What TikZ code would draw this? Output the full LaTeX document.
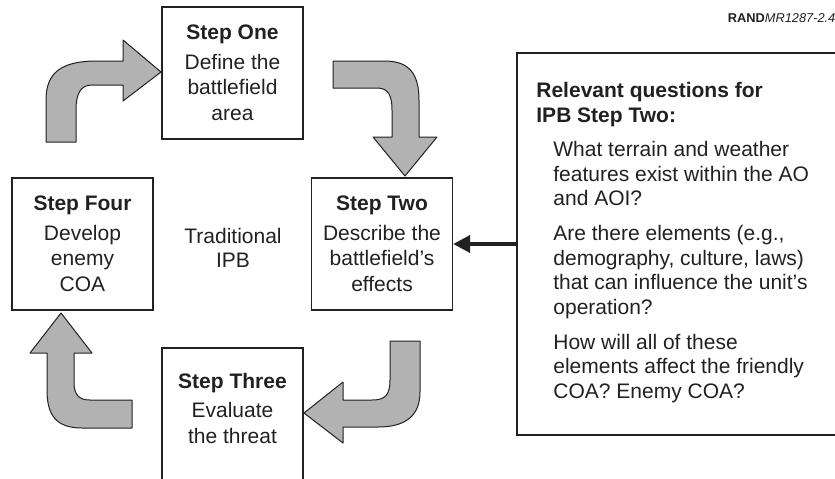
\documentclass[tikz,border=0pt]{standalone}
\usepackage{fontspec}
\setmainfont{Liberation Sans}
\usetikzlibrary{arrows.meta}
\definecolor{inkgray}{gray}{0.13}
\definecolor{bendfill}{gray}{0.7}

\begin{document}
\begin{tikzpicture}[x=0.5pt, y=-0.5pt,
	 stepnode/.style={draw=inkgray, text=inkgray, line width=0.65pt, minimum width=70.5pt, minimum height=66pt, inner sep=0pt, align=center, font=\fontsize{10.5}{12.75}\selectfont},
	 plaintext/.style={text=inkgray, inner sep=0pt, align=center, font=\fontsize{10.5}{12}\selectfont},
	 questext/.style={text=inkgray, inner sep=0pt, align=left, anchor=north west, font=\fontsize{10.5}{12.35}\selectfont},
	 quesbox/.style={draw=inkgray, line width=0.65pt, minimum width=180pt, minimum height=191pt},
	 bendarrow/.style={draw=inkgray, fill=bendfill, line width=0.5pt, line join=round},
	 feedarrow/.style={draw=inkgray, line width=1.8pt, -{Triangle[length=8.5pt, width=8.5pt]}}]
	    \useasboundingbox (0,0) rectangle (835,478);
	    \node at (232.5,73) [stepnode] (s1) {\textbf{Step One}\\[2pt]Define the\\battlefield\\area};
	    \node at (382,244) [stepnode] (s2) {\textbf{Step Two}\\[2pt]Describe the\\battlefield's\\effects};
	    \node at (232.5,414) [stepnode, text depth=6pt] (s3) {\textbf{Step Three}\\[2pt]Evaluate\\the threat};
	    \node at (82.5,244) [stepnode] (s4) {\textbf{Step Four}\\[2pt]Develop\\enemy\\COA};
	    \node at (233,248) [plaintext] (trad) {Traditional\\IPB};
	    \node at (697,244) [quesbox] (qs) {};
	    \node at (536,82) [questext] (qhead) {\textbf{Relevant questions for}\\\textbf{IPB Step Two:}};
	    \node at (553,140.7) [questext] (qlist) {What terrain and weather\\features exist within the AO\\and AOI?\\[5pt]Are there elements (e.g.,\\demography, culture, laws)\\that can influence the unit's\\operation?\\[5pt]How will all of these\\elements affect the friendly\\COA? Enemy COA?};
	    \node at (727.5,22) [anchor=base west, text=inkgray, inner sep=0pt, font=\fontsize{6.4}{7}\selectfont] (tag) {\textbf{RAND}\textit{MR1287-2.4}};
	    \draw[feedarrow] (qs.west) -- (s2.east);
	    \draw[bendarrow] (46,142) -- (46,100) .. controls (46,72) and (62,61) .. (97,61) -- (123,61) -- (123,40) -- (161,72) -- (123,101) -- (123,85) -- (92,85) .. controls (81,85) and (76,93) .. (76,110) -- (76,142) -- cycle;
	    \draw[bendarrow] (333,61) -- (385,61) .. controls (410,61) and (419,75) .. (419,100) -- (419,137) -- (437,137) -- (405,176) -- (373,137) -- (392,137) -- (392,110) .. controls (392,95) and (388,88) .. (377,88) -- (333,88) -- cycle;
	    \draw[bendarrow] (390,341) -- (420,341) -- (420,392) .. controls (420,417) and (404,427) .. (378,427) -- (343,427) -- (343,443) -- (304,413) -- (343,382) -- (343,400) -- (372,400) .. controls (385,400) and (390,395) .. (390,380) -- cycle;
	    \draw[bendarrow] (132,400) -- (132,428) -- (82,428) .. controls (56,428) and (47,415) .. (47,390) -- (47,353) -- (30,353) -- (61,313) -- (92,353) -- (74,353) -- (74,382) .. controls (74,395) and (79,400) .. (90,400) -- cycle;
\end{tikzpicture}
\end{document}
